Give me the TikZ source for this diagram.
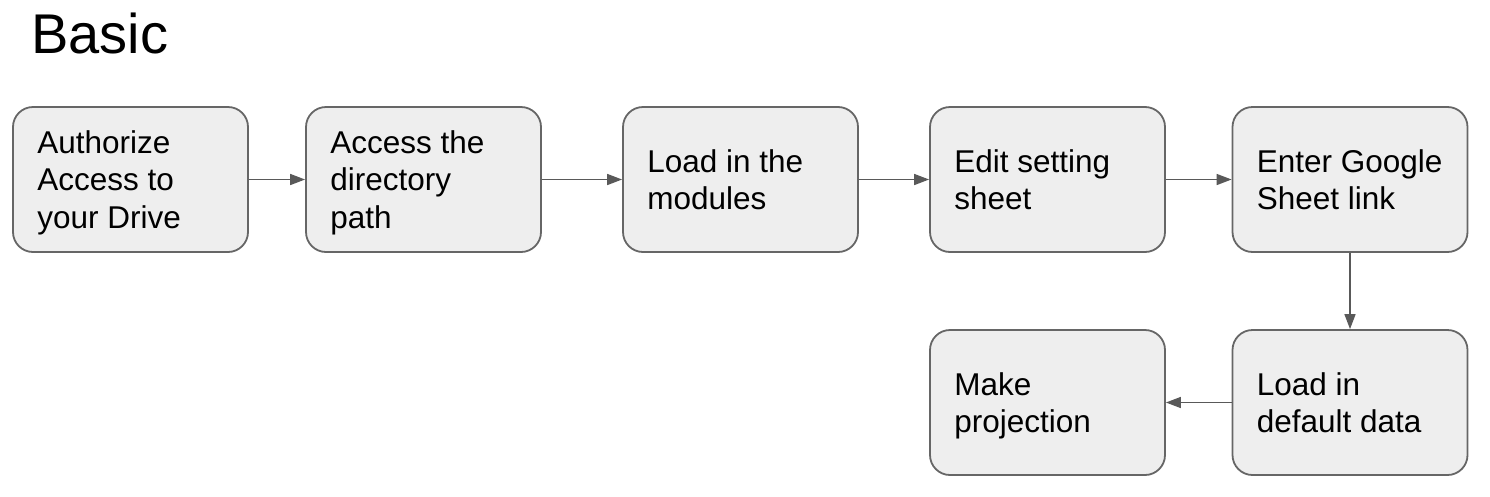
\documentclass[tikz,border=0pt]{standalone}
\usepackage{fontspec}
\setmainfont{Liberation Sans}
\usetikzlibrary{arrows.meta}
\definecolor{boxfill}{HTML}{EEEEEE}
\definecolor{boxline}{HTML}{666666}
\definecolor{arrowcol}{HTML}{595959}
\tikzset{
  stepbox/.style={draw=boxline, fill=boxfill, line width=1.8pt, rounded corners=20pt,
    minimum width=235pt, minimum height=145pt, inner sep=0pt},
  boxtext/.style={anchor=west, xshift=25pt, inner sep=0pt, align=left, text depth=0pt,
    font=\fontsize{31.5}{37.5}\selectfont},
  flow/.style={draw=arrowcol, line width=1.6pt, -{Triangle[length=15pt, width=11pt]}},
}
\begin{document}
\begin{tikzpicture}[x=1pt, y=1pt]
\useasboundingbox (0,0) rectangle (1490,-496);
\node[anchor=base west, inner sep=0pt, font=\fontsize{56}{62}\selectfont] (title) at (31,-53) {Basic};

\node[stepbox, label={[boxtext]west:Authorize\\Access to\\your Drive}] (a) at (130.5,-179.5) {};
\node[stepbox, label={[boxtext]west:Access the\\directory\\path}] (b) at (423.5,-179.5) {};
\node[stepbox, label={[boxtext]west:Load in the\\modules}] (c) at (740.5,-179.5) {};
\node[stepbox, label={[boxtext]west:Edit setting\\sheet}] (d) at (1047.5,-179.5) {};
\node[stepbox, label={[boxtext]west:Enter Google\\Sheet link}] (e) at (1350,-179.5) {};
\node[stepbox, label={[boxtext]west:Load in\\default data}] (f) at (1350,-402.5) {};
\node[stepbox, label={[boxtext]west:Make\\projection}] (g) at (1047.5,-402.5) {};

\draw[flow] (a) -- (b);
\draw[flow] (b) -- (c);
\draw[flow] (c) -- (d);
\draw[flow] (d) -- (e);
\draw[flow] (e) -- (f);
\draw[flow] (f) -- (g);
\end{tikzpicture}
\end{document}
